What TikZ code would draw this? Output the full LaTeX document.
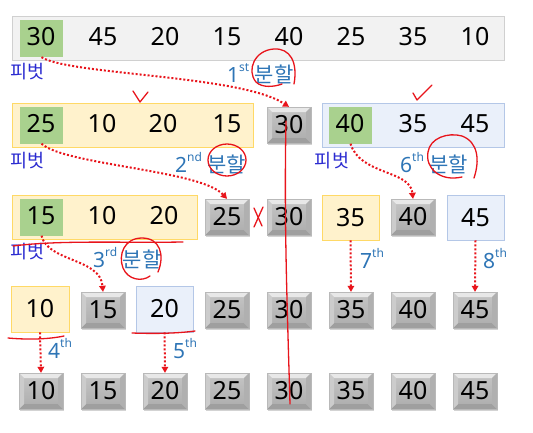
\documentclass[tikz,border=0pt]{standalone}
\usepackage{fontspec}
\setmainfont{Noto Sans}
\newfontfamily\kor{Noto Sans CJK KR}
\usetikzlibrary{arrows.meta, shadows}

\definecolor{pivotgreen}{HTML}{A9D18E}
\definecolor{leftfill}{HTML}{FFF2CC}
\definecolor{leftline}{HTML}{FFD966}
\definecolor{rightfill}{HTML}{EAF0FA}
\definecolor{rightline}{HTML}{B4C7E7}
\definecolor{wholefill}{HTML}{F2F2F2}
\definecolor{wholeline}{HTML}{D0D0D0}
\definecolor{labelblue}{HTML}{2E75B6}
\definecolor{pivotblue}{HTML}{2B2BD0}
\definecolor{penred}{HTML}{E8141B}

\newcommand{\nth}[2]{#1\raisebox{0.5em}{\fontsize{12}{12}\selectfont #2}}

\tikzset{
  num/.style={font=\fontsize{25}{30}\selectfont, inner sep=0pt},
  whole/.style={fill=wholefill, draw=wholeline, line width=0.8pt},
  leftpart/.style={num, fill=leftfill, draw=leftline, line width=0.8pt},
  rightpart/.style={num, fill=rightfill, draw=rightline, line width=0.8pt},
  pivot/.style={fill=pivotgreen, minimum width=43pt, minimum height=37pt, inner sep=0pt},
  fixed/.style={num, minimum width=44pt, minimum height=36pt,
    top color=gray!45, bottom color=gray!65, draw=gray!55, line width=0.4pt,
    drop shadow={shadow xshift=1pt, shadow yshift=-1.5pt, opacity=0.35},
    path picture={
      \fill[gray!18] (path picture bounding box.north west) -- (path picture bounding box.north east)
        -- ([shift={(-5pt,-5pt)}]path picture bounding box.north east) -- ([shift={(5pt,-5pt)}]path picture bounding box.north west) -- cycle;
      \fill[gray!75] (path picture bounding box.south west) -- (path picture bounding box.south east)
        -- ([shift={(-5pt,5pt)}]path picture bounding box.south east) -- ([shift={(5pt,5pt)}]path picture bounding box.south west) -- cycle;
      \fill[gray!40] (path picture bounding box.north west) -- ([shift={(5pt,-5pt)}]path picture bounding box.north west)
        -- ([shift={(5pt,5pt)}]path picture bounding box.south west) -- (path picture bounding box.south west) -- cycle;
      \fill[gray!62] (path picture bounding box.north east) -- ([shift={(-5pt,-5pt)}]path picture bounding box.north east)
        -- ([shift={(-5pt,5pt)}]path picture bounding box.south east) -- (path picture bounding box.south east) -- cycle;
    }},
  pivlabel/.style={font=\kor\fontsize{18.5}{20}\selectfont, text=pivotblue, inner sep=0pt},
  steplabel/.style={font=\fontsize{21}{24}\selectfont, text=labelblue, inner sep=0pt, anchor=base west},
  split/.style={draw=penred, line width=2pt, dash pattern=on 2pt off 2pt,
    -{Triangle[length=6pt, width=7pt, fill=penred, line width=0pt]}},
  pen/.style={draw=penred, line width=1.3pt, line cap=round, line join=round},
}

\begin{document}
\begin{tikzpicture}[x=1pt, y=-1pt]
\useasboundingbox (0,0) rectangle (533,432);

% row 1
\node[whole, minimum width=492pt, minimum height=44pt] (row1) at (258,38) {};
\node[pivot] (piv1) at (41.5,38.5) {};
\foreach \v [count=\i from 0] in {30,45,20,15,40,25,35,10}
  \node[num] (a\i) at ({41+62*\i},37) {\v};
\node[pivlabel] (pl1) at (28,72) {피벗};
\node[steplabel] (s1) at (227,82) {\nth{1}{st} {\kor 분할}};

% row 2
\node[leftpart, minimum width=241pt, minimum height=44pt] (box2L) at (132.5,125) {};
\node[pivot] (piv2L) at (41.5,125) {};
\foreach \v/\x in {25/41,10/102,20/163,15/227}
  \node[num] (b\v) at (\x,124) {\v};
\node[fixed] (fix2) at (289,125) {30};
\node[rightpart, minimum width=182pt, minimum height=44pt] (box2R) at (413,125) {};
\node[pivot] (piv2R) at (350.5,125) {};
\foreach \v/\x in {40/350,35/413,45/475}
  \node[num] (c\v) at (\x,124) {\v};
\node[pivlabel] (pl2L) at (28,161) {피벗};
\node[pivlabel] (pl2R) at (332,161) {피벗};
\node[steplabel] (s2) at (175,172) {\nth{2}{nd} {\kor 분할}};
\node[steplabel] (s6) at (400,172) {\nth{6}{th} {\kor 분할}};

% row 3
\node[leftpart, minimum width=185pt, minimum height=44pt] (box3L) at (104.5,217) {};
\node[pivot] (piv3L) at (41.5,217) {};
\foreach \v/\x in {15/41,10/102,20/164}
  \node[num] (e\v) at (\x,216) {\v};
\node[fixed] (fix3a) at (227,217) {25};
\node[fixed] (fix3b) at (289,217) {30};
\node[leftpart, minimum width=57pt, minimum height=45pt] (box3M) at (350.5,217.5) {35};
\node[fixed] (fix3c) at (413,217) {40};
\node[rightpart, minimum width=57pt, minimum height=45pt] (box3R) at (475.5,217.5) {45};
\node[pivlabel] (pl3) at (28,252) {피벗};
\node[steplabel] (s3) at (93,267) {\nth{3}{rd} {\kor 분할}};
\node[steplabel] (s7) at (360,268) {\nth{7}{th}};
\node[steplabel] (s8) at (483,268) {\nth{8}{th}};

% row 4
\node[leftpart, minimum width=58pt, minimum height=46pt] (box4L) at (40,309) {10};
\node[rightpart, minimum width=57pt, minimum height=46pt] (box4M) at (164.5,309) {20};
\foreach \v/\x in {15/103,25/227,30/289,35/351,40/413,45/475}
  \node[fixed] (d\v) at (\x,310) {\v};
\node[steplabel] (s4) at (48,358) {\nth{4}{th}};
\node[steplabel] (s5) at (173,358) {\nth{5}{th}};

% row 5
\foreach \v [count=\i from 0] in {10,15,20,25,30,35,40,45}
  \node[fixed] (fin\i) at ({41+62*\i},391) {\v};

% partition arrows
\draw[split] (piv1.south) .. controls (70,75) and (240,75) .. (fix2.north);
\draw[split] (piv2L.south) .. controls (65,165) and (200,170) .. (fix3a.north);
\draw[split] (piv2R.south) .. controls (360,175) and (410,170) .. (fix3c.north);
\draw[split] (piv3L.south) .. controls (48,262) and (100,258) .. (d15.north);
\draw[split] (box3M.south) -- (d35.north);
\draw[split] (box3R.south) -- (d45.north);
\draw[split] (box4L.south) -- (fin0.north);
\draw[split] (box4M.south) -- (fin2.north);

% red pen marks
\draw[pen] (286,121) .. controls (284,220) and (287,300) .. (290,404);
\draw[pen] (294,84) .. controls (298,62) and (290,48) .. (274,49)
  .. controls (255,50) and (246,70) .. (256,82) .. controls (262,88) and (274,87) .. (282,84);
\draw[pen] (227,160) ellipse [x radius=19, y radius=16];
\draw[pen] (462,177) .. controls (440,182) and (425,168) .. (428,152)
  .. controls (430,138) and (448,132) .. (462,136) .. controls (478,142) and (480,160) .. (474,178);
\draw[pen] (158,272) .. controls (165,255) and (160,238) .. (142,238)
  .. controls (124,238) and (118,255) .. (123,268) .. controls (128,280) and (142,282) .. (150,276);
\draw[pen] (133,91) -- (140,102) -- (148,92);
\draw[pen] (413,93) -- (417,100) -- (432,85);
\draw[pen] (254,208) -- (262,226);
\draw[pen] (263,207) -- (254,227);
\draw[pen] (13,246) .. controls (60,240) and (120,243) .. (183,242);
\draw[pen] (8,338) .. controls (30,340) and (50,339) .. (64,336);
\draw[pen] (132,333) .. controls (160,334) and (180,333) .. (195,331);
\end{tikzpicture}
\end{document}
